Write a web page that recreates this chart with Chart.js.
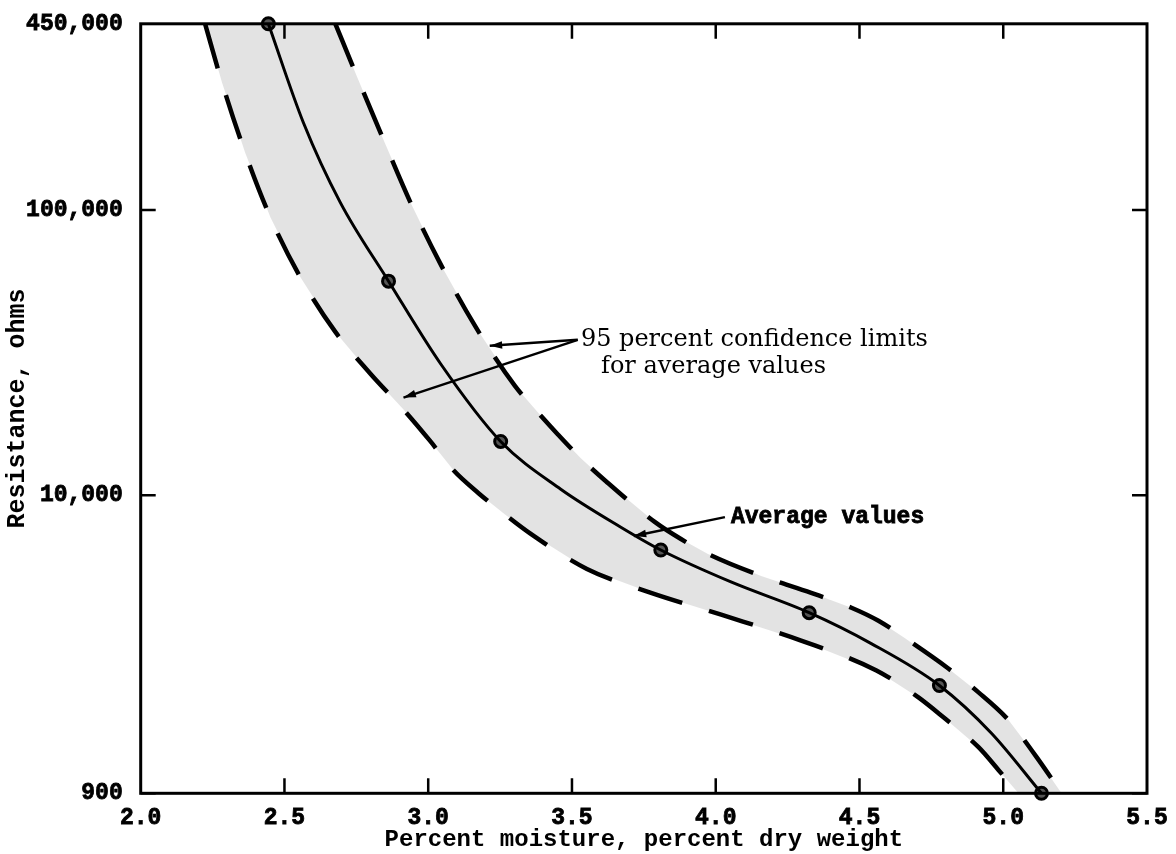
<!DOCTYPE html>
<html>
<head>
<meta charset="utf-8">
<script src="https://cdn.jsdelivr.net/npm/chart.js@4.4.1/dist/chart.umd.min.js"></script>
<style>
  html, body { margin: 0; padding: 0; background: #fff; }
</style>
</head>
<body>
<canvas id="chart-resistance" width="1176" height="854"></canvas>
<script>
const xTicks = [2.0, 2.5, 3.0, 3.5, 4.0, 4.5, 5.0, 5.5];
const yTicks = [900, 10000, 100000, 450000];

// average values curve
const avgMoisture = [2.444, 2.566, 2.694, 2.862, 3.043, 3.252, 3.461, 3.670, 3.809, 4.053, 4.325, 4.541, 4.778, 4.959, 5.133];
const avgResistance = [450000, 202400, 106400, 56300, 28900, 15430, 10490, 7720, 6420, 4960, 3870, 3015, 2150, 1462, 900];

// circled points on the average curve
const markerMoisture = [2.444, 2.862, 3.252, 3.809, 4.325, 4.778, 5.133];
const markerResistance = [450000, 56300, 15430, 6420, 3870, 2150, 900];

// 95 percent confidence limits
const upperMoisture = [2.677, 2.747, 2.834, 2.938, 3.043, 3.165, 3.301, 3.391, 3.451, 3.531, 3.618, 3.789, 3.879, 3.973, 4.158, 4.332, 4.472, 4.566, 4.656, 4.809, 4.914, 5.019, 5.116, 5.203];
const upperResistance = [450000, 302700, 186800, 106400, 64590, 38910, 24210, 19020, 16330, 13460, 11190, 8041, 7016, 6219, 5209, 4544, 4029, 3626, 3164, 2466, 2033, 1622, 1205, 900];
const lowerMoisture = [2.224, 2.283, 2.363, 2.451, 2.555, 2.677, 2.799, 2.914, 3.008, 3.088, 3.175, 3.266, 3.353, 3.552, 3.775, 4.019, 4.297, 4.559, 4.705, 4.792, 4.914, 4.984, 5.053];
const lowerResistance = [450000, 279300, 159100, 94280, 58180, 37380, 26660, 19960, 15430, 12220, 10160, 8576, 7363, 5511, 4544, 3807, 3089, 2426, 1952, 1662, 1306, 1085, 900];

// annotation texts and arrows (data coordinates)
const noteLines = ["95 percent confidence limits", "for average values"];
const noteX = [3.531, 3.601];
const noteY = [35000, 28200];
const avgLabel = "Average values";
const avgLabelAt = [4.053, 8400];
const arrows = [
  [[3.520, 35050], [3.214, 33400]],
  [[3.520, 35050], [2.914, 21990]],
  [[4.032, 8372], [3.715, 7190]],
];

const monoFamily = "'Liberation Mono', 'DejaVu Sans Mono', monospace";
const tickFont = { family: monoFamily, size: 23, weight: "bold" };

const pts = (xs, ys) => xs.map((x, i) => ({ x: x, y: ys[i] }));

const bandFill = {
  id: "bandFill",
  beforeDatasetsDraw(chart) {
    const { ctx, chartArea, scales } = chart;
    ctx.save();
    ctx.beginPath();
    ctx.rect(chartArea.left, chartArea.top, chartArea.width, chartArea.height);
    ctx.clip();
    ctx.beginPath();
    upperMoisture.forEach((m, i) => {
      const px = scales.x.getPixelForValue(m), py = scales.y.getPixelForValue(upperResistance[i]);
      if (i === 0) ctx.moveTo(px, py); else ctx.lineTo(px, py);
    });
    for (let i = lowerMoisture.length - 1; i >= 0; i--) {
      ctx.lineTo(scales.x.getPixelForValue(lowerMoisture[i]), scales.y.getPixelForValue(lowerResistance[i]));
    }
    ctx.closePath();
    ctx.fillStyle = "rgba(0,0,0,0.11)";
    ctx.fill();
    ctx.restore();
  },
};

const frameTicks = {
  id: "frameTicks",
  afterDraw(chart) {
    const { ctx, chartArea: a, scales } = chart;
    const len = 15;
    ctx.save();
    ctx.strokeStyle = "#000";
    ctx.lineWidth = 2.5;
    xTicks.slice(1, -1).forEach(v => {
      const px = scales.x.getPixelForValue(v);
      ctx.beginPath();
      ctx.moveTo(px, a.bottom); ctx.lineTo(px, a.bottom - len);
      ctx.moveTo(px, a.top); ctx.lineTo(px, a.top + len);
      ctx.stroke();
    });
    yTicks.slice(0, -1).forEach(v => {
      const py = scales.y.getPixelForValue(v);
      ctx.beginPath();
      ctx.moveTo(a.left, py); ctx.lineTo(a.left + len, py);
      ctx.moveTo(a.right, py); ctx.lineTo(a.right - len, py);
      ctx.stroke();
    });
    ctx.lineWidth = 3;
    ctx.strokeRect(a.left, a.top, a.right - a.left, a.bottom - a.top);
    ctx.restore();
  },
};

const notes = {
  id: "notes",
  afterDatasetsDraw(chart) {
    const { ctx, scales } = chart;
    const X = v => scales.x.getPixelForValue(v);
    const Y = v => scales.y.getPixelForValue(v);
    ctx.save();
    ctx.fillStyle = "#000";
    ctx.strokeStyle = "#000";
    ctx.textBaseline = "middle";
    ctx.textAlign = "left";
    ctx.font = "24px 'DejaVu Serif', serif";
    noteLines.forEach((t, i) => ctx.fillText(t, X(noteX[i]), Y(noteY[i])));
    ctx.font = "bold 23px " + monoFamily;
    ctx.lineWidth = 0.8;
    ctx.fillText(avgLabel, X(avgLabelAt[0]), Y(avgLabelAt[1]));
    ctx.strokeText(avgLabel, X(avgLabelAt[0]), Y(avgLabelAt[1]));

    ctx.lineWidth = 2.5;
    arrows.forEach(([from, to]) => {
      const x1 = X(from[0]), y1 = Y(from[1]), x2 = X(to[0]), y2 = Y(to[1]);
      const ang = Math.atan2(y2 - y1, x2 - x1);
      ctx.beginPath();
      ctx.moveTo(x1, y1);
      ctx.lineTo(x2, y2);
      ctx.stroke();
      ctx.beginPath();
      ctx.moveTo(x2, y2);
      ctx.lineTo(x2 - 13 * Math.cos(ang - 0.3), y2 - 13 * Math.sin(ang - 0.3));
      ctx.lineTo(x2 - 13 * Math.cos(ang + 0.3), y2 - 13 * Math.sin(ang + 0.3));
      ctx.closePath();
      ctx.fill();
    });
    ctx.restore();
  },
};

new Chart(document.getElementById("chart-resistance"), {
  type: "scatter",
  data: {
    datasets: [
      {
        label: "Average values",
        data: pts(avgMoisture, avgResistance),
        showLine: true,
        borderColor: "#000",
        borderWidth: 3,
        pointRadius: 0,
        cubicInterpolationMode: "monotone",
      },
      {
        label: "Upper limit",
        data: pts(upperMoisture, upperResistance),
        showLine: true,
        borderColor: "#000",
        borderWidth: 4.5,
        borderDash: [46, 28],
        pointRadius: 0,
        cubicInterpolationMode: "monotone",
      },
      {
        label: "Lower limit",
        data: pts(lowerMoisture, lowerResistance),
        showLine: true,
        borderColor: "#000",
        borderWidth: 4.5,
        borderDash: [46, 28],
        pointRadius: 0,
        cubicInterpolationMode: "monotone",
      },
      {
        label: "Points",
        data: pts(markerMoisture, markerResistance),
        showLine: false,
        pointRadius: 6,
        pointBorderWidth: 3,
        pointBorderColor: "#000",
        pointBackgroundColor: "#555",
        clip: false,
      },
    ],
  },
  options: {
    responsive: false,
    animation: false,
    devicePixelRatio: 1,
    layout: { padding: { top: 20.7, right: 29, bottom: 0, left: 0 } },
    plugins: {
      legend: { display: false },
      tooltip: { enabled: false },
    },
    scales: {
      x: {
        type: "linear",
        min: 2,
        max: 5.5,
        grid: { display: false },
        border: { display: false },
        ticks: {
          stepSize: 0.5,
          padding: 3,
          color: "#000",
          font: tickFont,
          textStrokeColor: "#000",
          textStrokeWidth: 0.8,
          callback: v => Number(v).toFixed(1),
        },
        title: {
          display: true,
          text: "Percent moisture, percent dry weight",
          color: "#000",
          font: { family: monoFamily, size: 24, weight: "bold" },
          padding: { top: 0, bottom: 0 },
        },
        afterFit: s => { s.height = 60.7; },
      },
      y: {
        type: "logarithmic",
        min: 900,
        max: 450000,
        grid: { display: false },
        border: { display: false },
        afterBuildTicks: s => { s.ticks = yTicks.map(v => ({ value: v })); },
        ticks: {
          autoSkip: false,
          padding: 10,
          color: "#000",
          font: tickFont,
          textStrokeColor: "#000",
          textStrokeWidth: 0.8,
          callback: v => Number(v).toLocaleString("en-US"),
        },
        title: {
          display: true,
          text: "Resistance, ohms",
          color: "#000",
          font: { family: monoFamily, size: 25, weight: "bold" },
          padding: { top: 3, bottom: 0 },
        },
        afterFit: s => { s.width = 140.7; },
      },
    },
  },
  plugins: [bandFill, notes, frameTicks],
});
</script>
</body>
</html>
